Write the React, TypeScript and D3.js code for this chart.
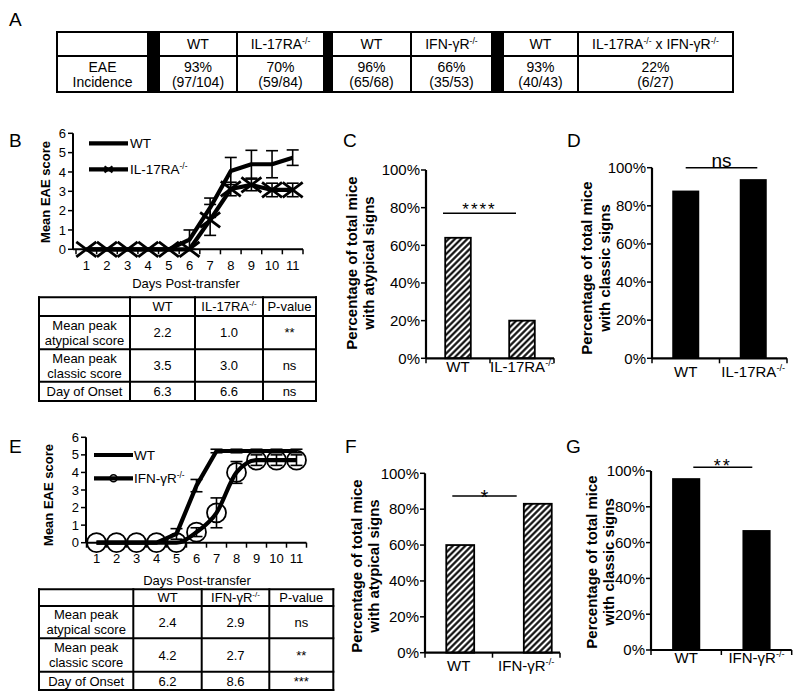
import React from "react";
import * as d3 from "d3";

const FONT = "Arial, 'Liberation Sans', Helvetica, sans-serif";

// ---------- Panel A data ----------
const aGroups = ["WT", "IL-17RA-/-", "WT", "IFN-γR-/-", "WT", "IL-17RA-/- x IFN-γR-/-"];
const aIncidence = ["93%", "70%", "96%", "66%", "93%", "22%"];
const aCounts = ["(97/104)", "(59/84)", "(65/68)", "(35/53)", "(40/43)", "(6/27)"];
const aRowLabel = "EAE\nIncidence";

// ---------- Line charts data ----------
const days = [1, 2, 3, 4, 5, 6, 7, 8, 9, 10, 11];
const scoreTicks = [0, 1, 2, 3, 4, 5, 6];
const bWT = [0, 0, 0, 0, 0, 0.5, 2.15, 4.05, 4.4, 4.4, 4.74];
const bWTErr = [0, 0, 0, 0, 0, 0.5, 0.5, 0.7, 0.72, 0.7, 0.4];
const bKO = [0, 0, 0, 0, 0, 0, 1.52, 3.12, 3.33, 3.07, 3.07];
const bKOErr = [0, 0, 0, 0, 0, 0, 0.8, 0.35, 0.3, 0.35, 0.35];
const eWT = [0, 0, 0, 0, 0.5, 3.25, 5.22, 5.22, 5.22, 5.22, 5.22];
const eWTErr = [0, 0, 0, 0, 0.3, 0.35, 0.1, 0.1, 0.1, 0.1, 0.1];
const eKO = [0, 0, 0, 0, 0, 0.6, 1.7, 4.0, 4.7, 4.7, 4.7];
const eKOErr = [0, 0, 0, 0, 0, 0.25, 0.85, 0.62, 0.3, 0.3, 0.3];

// ---------- Tables ----------
const bTableHead = ["", "WT", "IL-17RA-/-", "P-value"];
const bTableRows = [
  ["Mean peak\natypical score", "2.2", "1.0", "**"],
  ["Mean peak\nclassic score", "3.5", "3.0", "ns"],
  ["Day of Onset", "6.3", "6.6", "ns"],
];
const eTableHead = ["", "WT", "IFN-γR-/-", "P-value"];
const eTableRows = [
  ["Mean peak\natypical score", "2.4", "2.9", "ns"],
  ["Mean peak\nclassic score", "4.2", "2.7", "**"],
  ["Day of Onset", "6.2", "8.6", "***"],
];

// ---------- Bar charts ----------
const pctTicks = [0, 20, 40, 60, 80, 100];
const catsIL = ["WT", "IL-17RA-/-"];
const catsIFN = ["WT", "IFN-γR-/-"];
const cAtypical = [64, 20];
const dClassic = [88, 94];
const fAtypical = [60, 83];
const gClassic = [96, 67];

function SupText({ s, fs }: { s: string; fs: number }) {
  const sh = fs * 0.38;
  const parts = s.split("-/-");
  const nodes: any[] = [];
  let shifted = false;
  parts.forEach((p, i) => {
    if (p) {
      nodes.push(
        <tspan key={"t" + i} dy={shifted ? sh : 0}>
          {p}
        </tspan>
      );
      shifted = false;
    }
    if (i < parts.length - 1) {
      nodes.push(
        <tspan key={"s" + i} dy={-sh} fontSize={fs * 0.62}>
          -/-
        </tspan>
      );
      shifted = true;
    }
  });
  return <>{nodes}</>;
}

function CellText({ x, y, s, fs, lh }: { x: number; y: number; s: string; fs: number; lh: number }) {
  const lines = s.split("\n");
  return (
    <>
      {lines.map((ln, i) => (
        <text
          key={i}
          x={x}
          y={y + (i - (lines.length - 1) / 2) * lh + fs * 0.36}
          textAnchor="middle"
          fontSize={fs}
          fontFamily={FONT}
        >
          <SupText s={ln} fs={fs} />
        </text>
      ))}
    </>
  );
}

function Table({
  cols,
  rows,
  cells,
  fs,
  lh,
  blackCols = [],
}: {
  cols: number[];
  rows: number[];
  cells: string[][];
  fs: number;
  lh: number;
  blackCols?: number[];
}) {
  return (
    <g>
      {blackCols.map((ci) => (
        <rect
          key={"b" + ci}
          x={cols[ci]}
          y={rows[0]}
          width={cols[ci + 1] - cols[ci]}
          height={rows[rows.length - 1] - rows[0]}
          fill="#000"
        />
      ))}
      {cells.map((row, r) =>
        row.map((c, ci) =>
          c ? (
            <CellText
              key={r + "-" + ci}
              x={(cols[ci] + cols[ci + 1]) / 2}
              y={(rows[r] + rows[r + 1]) / 2}
              s={c}
              fs={fs}
              lh={lh}
            />
          ) : null
        )
      )}
      {rows.map((y, i) => (
        <line key={"h" + i} x1={cols[0]} x2={cols[cols.length - 1]} y1={y} y2={y} stroke="#000" strokeWidth={2} strokeLinecap="square" />
      ))}
      {cols.map((x, i) => (
        <line key={"v" + i} x1={x} x2={x} y1={rows[0]} y2={rows[rows.length - 1]} stroke="#000" strokeWidth={2} strokeLinecap="square" />
      ))}
    </g>
  );
}

type ScoreProps = {
  axisX: number;
  x0: number;
  x1: number;
  yTop: number;
  yBot: number;
  wt: number[];
  wtErr: number[];
  ko: number[];
  koErr: number[];
  marker: "x" | "o";
  smooth: boolean;
  tickY: number;
  titleX: number;
  titleY: number;
  ylabX: number;
  ylabY: number;
  legX0: number;
  legX1: number;
  legY1: number;
  legY2: number;
  legTextX: number;
  koName: string;
};

function ScoreChart(p: ScoreProps) {
  const x = d3.scaleBand<number>().domain(days).range([p.x0, p.x1]);
  const cx = (d: number) => (x(d) as number) + x.bandwidth() / 2;
  const y = d3.scaleLinear().domain([0, 6]).range([p.yBot, p.yTop]);
  const wtLine = d3
    .line<number>()
    .x((_, i) => cx(days[i]))
    .y((v) => y(v));
  const koLine = d3
    .line<number>()
    .x((_, i) => cx(days[i]))
    .y((v) => y(v))
    .curve(p.smooth ? d3.curveMonotoneX : d3.curveLinear);
  const bounds = days.map((d) => x(d) as number).concat([p.x1]);
  const errBars = (vals: number[], errs: number[], key: string) =>
    vals.map((v, i) => {
      const e = errs[i];
      if (!e) return null;
      const xx = cx(days[i]);
      return (
        <g key={key + i} stroke="#000" strokeWidth={1.6}>
          <line x1={xx} x2={xx} y1={y(v - e)} y2={y(v + e)} />
          <line x1={xx - 6} x2={xx + 6} y1={y(v + e)} y2={y(v + e)} />
          <line x1={xx - 6} x2={xx + 6} y1={y(v - e)} y2={y(v - e)} />
        </g>
      );
    });
  const markerEl = (mx: number, my: number, big: boolean, key: string) =>
    p.marker === "x" ? (
      <path
        key={key}
        d={big ? `M${mx - 10},${my - 7.5}L${mx + 10},${my + 7.5}M${mx - 10},${my + 7.5}L${mx + 10},${my - 7.5}` : `M${mx - 4},${my - 3}L${mx + 4},${my + 3}M${mx - 4},${my + 3}L${mx + 4},${my - 3}`}
        stroke="#000"
        strokeWidth={big ? 2.8 : 2.2}
        fill="none"
      />
    ) : (
      <circle key={key} cx={mx} cy={my} r={big ? 9.5 : 3.5} fill="none" stroke="#000" strokeWidth={big ? 1.8 : 1.6} />
    );
  return (
    <g>
      <line x1={p.axisX} x2={p.axisX} y1={p.yTop} y2={p.yBot} stroke="#000" strokeWidth={2} />
      <line x1={p.axisX} x2={p.x1} y1={p.yBot} y2={p.yBot} stroke="#000" strokeWidth={2} />
      {scoreTicks.map((t) => (
        <g key={"yt" + t}>
          <line x1={p.axisX - 5} x2={p.axisX} y1={y(t)} y2={y(t)} stroke="#000" strokeWidth={1.5} />
          <text x={p.axisX - 7} y={y(t) + 4.6} textAnchor="end" fontSize={13} fontFamily={FONT}>
            {t}
          </text>
        </g>
      ))}
      {bounds.map((b, i) => (
        <line key={"xb" + i} x1={b} x2={b} y1={p.yBot} y2={p.yBot + 5} stroke="#000" strokeWidth={1.5} />
      ))}
      {days.map((d) => (
        <text key={"xl" + d} x={cx(d)} y={p.tickY} textAnchor="middle" fontSize={13} fontFamily={FONT}>
          {d}
        </text>
      ))}
      <text x={p.titleX} y={p.titleY} textAnchor="middle" fontSize={13} fontFamily={FONT}>
        Days Post-transfer
      </text>
      <text
        transform={`translate(${p.ylabX},${p.ylabY}) rotate(-90)`}
        textAnchor="middle"
        dy="0.35em"
        fontSize={13}
        fontWeight="bold"
        fontFamily={FONT}
      >
        Mean EAE score
      </text>
      {errBars(p.wt, p.wtErr, "we")}
      <path d={wtLine(p.wt) || ""} fill="none" stroke="#000" strokeWidth={4.2} strokeLinejoin="round" />
      {errBars(p.ko, p.koErr, "ke")}
      <path d={koLine(p.ko) || ""} fill="none" stroke="#000" strokeWidth={4.2} strokeLinejoin="round" />
      {p.ko.map((v, i) => markerEl(cx(days[i]), y(v), true, "m" + i))}
      <line x1={p.legX0} x2={p.legX1} y1={p.legY1} y2={p.legY1} stroke="#000" strokeWidth={4.2} />
      <text x={p.legTextX} y={p.legY1 + 4.8} fontSize={13.5} fontFamily={FONT}>
        WT
      </text>
      <line x1={p.legX0} x2={p.legX1} y1={p.legY2} y2={p.legY2} stroke="#000" strokeWidth={4.2} />
      {markerEl((p.legX0 + p.legX1) / 2, p.legY2, false, "lm")}
      <text x={p.legTextX} y={p.legY2 + 4.8} fontSize={13.5} fontFamily={FONT}>
        <SupText s={p.koName} fs={13.5} />
      </text>
    </g>
  );
}

type BarProps = {
  cats: string[];
  vals: number[];
  hatched: boolean;
  axisX: number;
  axisEnd: number;
  barX0: number;
  barX1: number;
  padInner: number;
  yTop: number;
  yBot: number;
  sigX1: number;
  sigX2: number;
  sigY: number;
  sigText: string;
  sigFs: number;
  sigTy: number;
  sigLs: number;
  ylabX1: number;
  ylabX2: number;
  ylabY: number;
  line2: string;
  catY: number;
};

function PctBars(p: BarProps) {
  const y = d3.scaleLinear().domain([0, 100]).range([p.yBot, p.yTop]);
  const xa = d3.scaleBand<string>().domain(p.cats).range([p.axisX, p.axisEnd]);
  const xb = d3
    .scaleBand<string>()
    .domain(p.cats)
    .range([p.barX0, p.barX1])
    .paddingInner(p.padInner)
    .paddingOuter(0.3);
  const bounds = p.cats.map((c) => xa(c) as number).concat([p.axisEnd]);
  return (
    <g>
      {p.cats.map((c, i) => (
        <rect
          key={"bar" + i}
          x={xb(c) as number}
          y={y(p.vals[i])}
          width={xb.bandwidth()}
          height={p.yBot - y(p.vals[i])}
          fill={p.hatched ? "url(#hatch)" : "#000"}
          stroke="#000"
          strokeWidth={p.hatched ? 1.8 : 0}
        />
      ))}
      <line x1={p.axisX} x2={p.axisX} y1={p.yTop} y2={p.yBot} stroke="#000" strokeWidth={2.2} />
      <line x1={p.axisX} x2={p.axisEnd} y1={p.yBot} y2={p.yBot} stroke="#000" strokeWidth={2.2} />
      {pctTicks.map((t) => (
        <g key={"t" + t}>
          <line x1={p.axisX - 5} x2={p.axisX} y1={y(t)} y2={y(t)} stroke="#000" strokeWidth={1.5} />
          <text x={p.axisX - 6} y={y(t) + 5.3} textAnchor="end" fontSize={15} fontFamily={FONT}>
            {t}%
          </text>
        </g>
      ))}
      {bounds.map((b, i) => (
        <line key={"xb" + i} x1={b} x2={b} y1={p.yBot} y2={p.yBot + 5} stroke="#000" strokeWidth={1.5} />
      ))}
      {p.cats.map((c) => (
        <text
          key={"cl" + c}
          x={(xa(c) as number) + xa.bandwidth() / 2}
          y={p.catY}
          textAnchor="middle"
          fontSize={15}
          fontFamily={FONT}
        >
          <SupText s={c} fs={15} />
        </text>
      ))}
      <line x1={p.sigX1} x2={p.sigX2} y1={p.sigY} y2={p.sigY} stroke="#000" strokeWidth={1.5} />
      <text
        x={(p.sigX1 + p.sigX2) / 2}
        y={p.sigTy}
        textAnchor="middle"
        fontSize={p.sigFs}
        letterSpacing={p.sigLs}
        fontFamily={FONT}
      >
        {p.sigText}
      </text>
      <text
        transform={`translate(${p.ylabX1},${p.ylabY}) rotate(-90)`}
        textAnchor="middle"
        dy="0.35em"
        fontSize={15}
        fontWeight="bold"
        fontFamily={FONT}
      >
        Percentage of total mice
      </text>
      <text
        transform={`translate(${p.ylabX2},${p.ylabY}) rotate(-90)`}
        textAnchor="middle"
        dy="0.35em"
        fontSize={15}
        fontWeight="bold"
        fontFamily={FONT}
      >
        {p.line2}
      </text>
    </g>
  );
}

function PanelLabel({ x, y, t }: { x: number; y: number; t: string }) {
  return (
    <text x={x} y={y} fontSize={19} fontFamily={FONT}>
      {t}
    </text>
  );
}

export default function App() {
  const aCols = [57, 148, 159, 237, 324, 332, 411, 492, 503, 578, 733];
  const aRows = [32, 56, 92];
  const sepIdx = [1, 4, 7];
  const aHead: string[] = [""];
  const aData: string[] = [aRowLabel];
  let g = 0;
  for (let ci = 1; ci < aCols.length - 1; ci++) {
    if (sepIdx.includes(ci)) {
      aHead.push("");
      aData.push("");
    } else {
      aHead.push(aGroups[g]);
      aData.push(aIncidence[g] + "\n" + aCounts[g]);
      g++;
    }
  }

  return (
    <svg
      width={800}
      height={700}
      style={{ position: "absolute", left: 0, top: 0, background: "#fff" }}
      fontFamily={FONT}
    >
      <defs>
        <pattern id="hatch" patternUnits="userSpaceOnUse" width={4.4} height={4.4} patternTransform="rotate(45)">
          <rect width={4.4} height={4.4} fill="#fff" />
          <line x1={2.2} x2={2.2} y1={0} y2={4.4} stroke="#000" strokeWidth={2.1} />
        </pattern>
      </defs>
      <rect width={800} height={700} fill="#fff" />

      <PanelLabel x={9} y={26} t="A" />
      <PanelLabel x={9} y={147} t="B" />
      <PanelLabel x={343} y={147} t="C" />
      <PanelLabel x={567} y={147} t="D" />
      <PanelLabel x={9} y={453} t="E" />
      <PanelLabel x={345} y={453} t="F" />
      <PanelLabel x={566} y={453} t="G" />

      <Table cols={aCols} rows={aRows} cells={[aHead, aData]} fs={14} lh={15} blackCols={sepIdx} />

      <ScoreChart
        axisX={73}
        x0={76}
        x1={303}
        yTop={133.3}
        yBot={249.3}
        wt={bWT}
        wtErr={bWTErr}
        ko={bKO}
        koErr={bKOErr}
        marker="x"
        smooth={false}
        tickY={269.5}
        titleX={186}
        titleY={287.5}
        ylabX={45}
        ylabY={192}
        legX0={89}
        legX1={128}
        legY1={143.3}
        legY2={169.3}
        legTextX={130}
        koName="IL-17RA-/-"
      />
      <Table
        cols={[39, 130, 195, 263, 316]}
        rows={[297.3, 316, 349.3, 381.7, 401]}
        cells={[bTableHead, ...bTableRows]}
        fs={13}
        lh={14.7}
      />

      <PctBars
        cats={catsIL}
        vals={cAtypical}
        hatched={true}
        axisX={426}
        axisEnd={554}
        barX0={426}
        barX1={554}
        padInner={0.6}
        yTop={170}
        yBot={358.3}
        sigX1={443}
        sigX2={516}
        sigY={213.3}
        sigText="****"
        sigFs={17}
        sigTy={214.7}
        sigLs={2}
        ylabX1={352}
        ylabX2={368.5}
        ylabY={263}
        line2="with atypical signs"
        catY={372}
      />
      <PctBars
        cats={catsIL}
        vals={dClassic}
        hatched={false}
        axisX={652}
        axisEnd={787}
        barX0={652}
        barX1={787}
        padInner={0.6}
        yTop={167.7}
        yBot={358.3}
        sigX1={685.7}
        sigX2={757.3}
        sigY={167.7}
        sigText="ns"
        sigFs={19}
        sigTy={167}
        sigLs={0}
        ylabX1={587}
        ylabX2={605}
        ylabY={268}
        line2="with classic signs"
        catY={376.5}
      />

      <ScoreChart
        axisX={86}
        x0={86.5}
        x1={306.5}
        yTop={437.3}
        yBot={542.7}
        wt={eWT}
        wtErr={eWTErr}
        ko={eKO}
        koErr={eKOErr}
        marker="o"
        smooth={true}
        tickY={563}
        titleX={197}
        titleY={585}
        ylabX={48}
        ylabY={495}
        legX0={94}
        legX1={133}
        legY1={455}
        legY2={478.3}
        legTextX={134}
        koName="IFN-γR-/-"
      />
      <Table
        cols={[39, 133.3, 201.7, 269.3, 333.3]}
        rows={[589.3, 606, 638.3, 671.7, 690]}
        cells={[eTableHead, ...eTableRows]}
        fs={13}
        lh={14.7}
      />

      <PctBars
        cats={catsIFN}
        vals={fAtypical}
        hatched={true}
        axisX={425}
        axisEnd={560}
        barX0={423}
        barX1={575}
        padInner={0.64}
        yTop={473.3}
        yBot={652.7}
        sigX1={452.3}
        sigX2={516.7}
        sigY={496}
        sigText="*"
        sigFs={20}
        sigTy={503.5}
        sigLs={0}
        ylabX1={357}
        ylabX2={373.5}
        ylabY={566}
        line2="with atypical signs"
        catY={670.5}
      />
      <PctBars
        cats={catsIFN}
        vals={gClassic}
        hatched={false}
        axisX={651}
        axisEnd={791.7}
        barX0={651}
        barX1={791.7}
        padInner={0.6}
        yTop={471}
        yBot={650}
        sigX1={693.3}
        sigX2={752.3}
        sigY={467.3}
        sigText="**"
        sigFs={18}
        sigTy={472}
        sigLs={2}
        ylabX1={592}
        ylabX2={608.5}
        ylabY={562}
        line2="with classic signs"
        catY={662.5}
      />
    </svg>
  );
}
